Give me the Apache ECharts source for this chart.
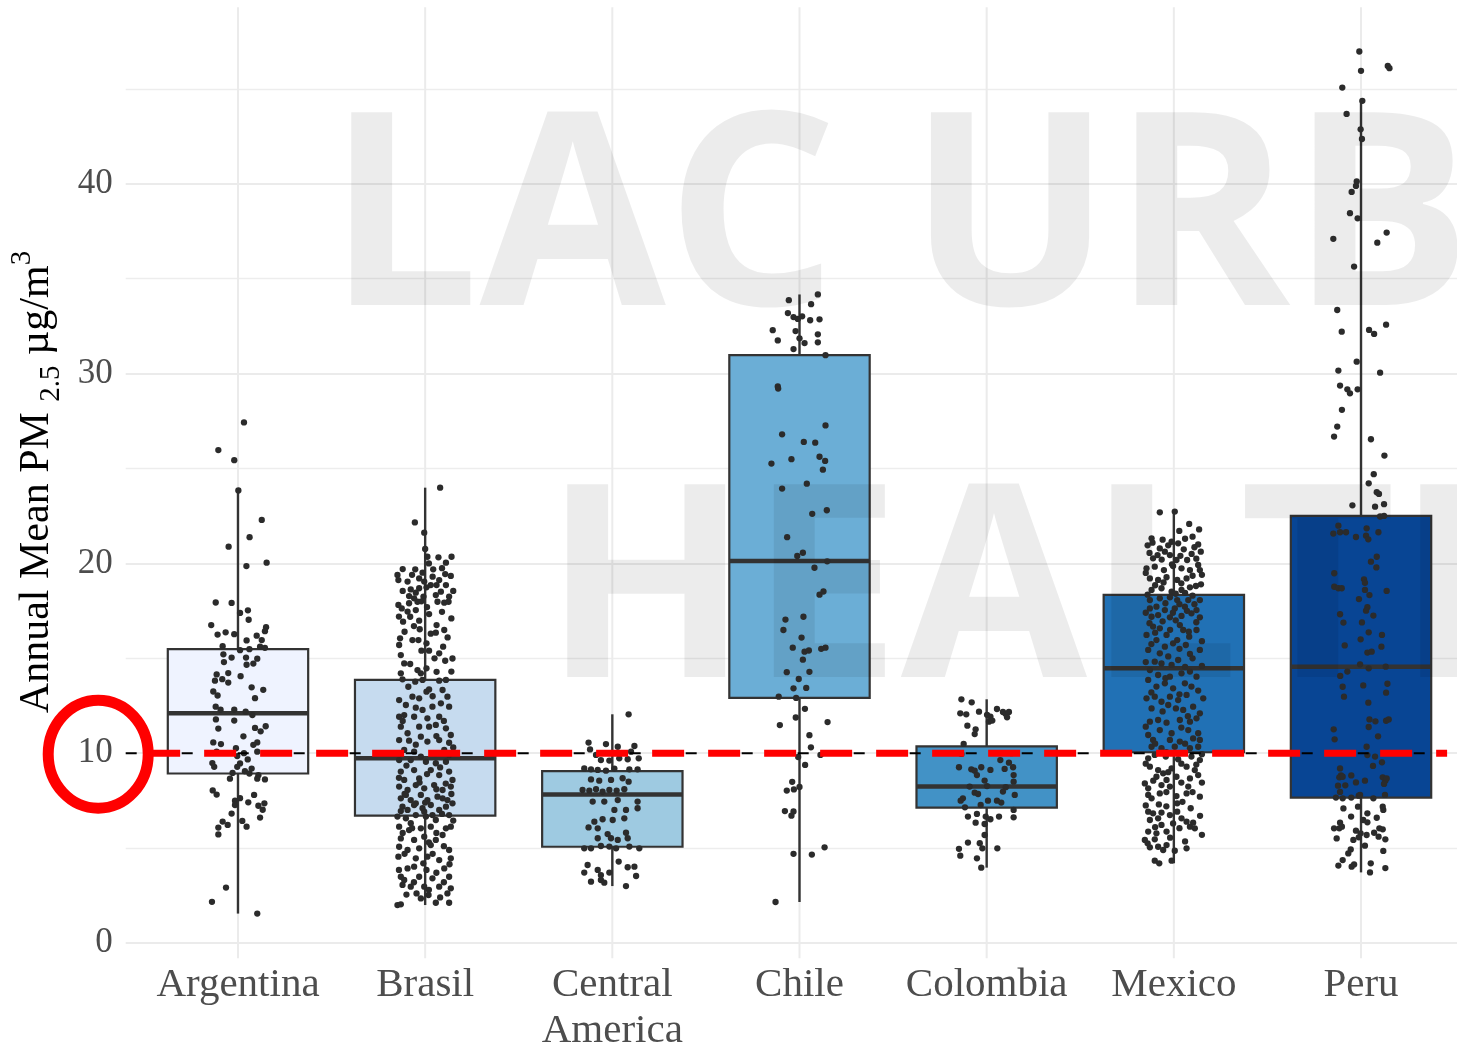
<!DOCTYPE html>
<html><head><meta charset="utf-8">
<script src="https://cdn.jsdelivr.net/npm/echarts@6/dist/echarts.min.js"></script>
<style>html,body{margin:0;padding:0;background:#fff}#c{width:1457px;height:1047px}</style>
</head><body><div id="c"></div>
<script>
const categories = ['Argentina','Brasil','Central\nAmerica','Chile','Colombia','Mexico','Peru'];
const boxColors = ['#eff3ff','#c6dbef','#9ecae1','#6baed6','#4292c6','#2171b5','#084594'];
// [lower whisker, Q1, median, Q3, upper whisker]
const boxStats = [
  [1.55, 8.93, 12.10, 15.48, 23.84],
  [2.00, 6.71, 9.73, 13.86, 23.99],
  [3.00, 5.07, 7.83, 9.06, 12.05],
  [2.16, 12.92, 20.12, 30.97, 34.17],
  [3.97, 7.13, 8.24, 10.36, 12.84],
  [4.20, 10.05, 14.47, 18.34, 22.73],
  [3.72, 7.66, 14.56, 22.50, 44.37]
];
const yTicks = [0, 10, 20, 30, 40];
const yRange = [0, 50];
const panelRange = [-0.8, 49.3];
const guideline = 10;
const redSegment = [0.52, 7.46];
// jittered points: [horizontal jitter (category units), value]
const ptsArgentina = [[0.032,27.43],[-0.105,25.97],[-0.020,25.44],[0.002,23.84],[0.127,22.29],[0.062,21.38],[-0.050,20.88],[0.045,19.86],[0.153,20.04],[-0.119,17.94],[-0.034,17.92],[0.053,17.53],[0.011,17.39],[0.057,17.03],[-0.143,16.75],[-0.066,16.37],[-0.109,16.25],[-0.020,16.27],[0.150,16.64],[0.144,16.43],[0.100,16.19],[0.046,15.94],[0.127,15.96],[-0.082,15.64],[0.011,15.43],[0.061,15.48],[0.118,15.61],[0.144,15.55],[-0.078,15.21],[-0.034,15.04],[0.043,15.04],[0.103,14.98],[-0.075,14.80],[0.046,14.66],[0.082,14.72],[-0.114,14.15],[-0.052,14.22],[0.014,14.06],[-0.123,13.82],[-0.084,13.90],[-0.052,13.72],[0.073,13.47],[0.135,13.34],[-0.132,13.25],[-0.109,13.04],[0.091,12.90],[-0.119,12.45],[-0.093,12.29],[-0.020,12.29],[0.041,12.19],[0.077,12.01],[-0.118,11.78],[-0.020,11.72],[0.148,11.42],[0.091,11.33],[0.121,11.15],[-0.105,11.30],[0.029,10.89],[-0.132,10.57],[-0.091,10.48],[0.103,10.57],[0.082,10.44],[-0.011,10.26],[-0.114,10.08],[0.032,10.00],[0.103,10.08],[-0.004,9.85],[0.052,9.67],[-0.137,9.48],[0.011,9.46],[-0.127,9.28],[-0.004,9.28],[0.073,9.19],[0.037,9.05],[0.061,8.93],[-0.029,8.96],[0.109,8.84],[-0.043,8.66],[0.103,8.66],[0.144,8.62],[-0.135,8.04],[-0.114,7.82],[0.086,7.80],[0.011,7.63],[-0.016,7.50],[0.055,7.41],[-0.016,7.27],[0.141,7.36],[0.109,7.23],[0.132,7.02],[-0.034,6.82],[0.118,6.61],[-0.082,6.40],[0.023,6.43],[-0.055,6.22],[0.046,6.13],[-0.105,6.08],[-0.105,5.72],[-0.064,2.92],[-0.139,2.17],[0.103,1.55]];
const ptsBrasil = [[0.080,23.99],[-0.055,22.16],[-0.005,21.62],[0.000,20.76],[0.012,20.35],[0.071,20.32],[0.141,20.35],[0.111,20.04],[-0.053,19.69],[0.043,19.69],[-0.148,19.39],[-0.143,19.12],[-0.094,19.04],[-0.032,19.21],[-0.014,19.51],[0.107,19.44],[0.137,19.34],[0.075,19.12],[0.061,18.86],[0.111,18.86],[-0.077,18.63],[-0.032,18.69],[0.007,18.74],[-0.086,18.28],[-0.050,18.46],[-0.009,18.25],[0.057,18.33],[0.084,18.51],[0.128,18.25],[-0.143,17.81],[-0.086,17.90],[-0.041,17.98],[0.066,17.98],[0.125,17.98],[-0.125,17.63],[-0.094,17.46],[-0.050,17.54],[0.021,17.33],[-0.080,17.19],[-0.032,16.98],[-0.118,16.93],[0.061,16.75],[0.102,16.49],[0.057,16.35],[-0.029,16.53],[-0.134,16.05],[-0.139,15.70],[-0.068,15.96],[-0.036,15.96],[0.007,15.79],[-0.130,15.17],[0.021,15.40],[0.075,15.26],[0.096,15.61],[0.146,14.99],[0.107,14.87],[-0.112,14.73],[-0.041,14.38],[-0.023,14.21],[-0.130,14.21],[-0.121,13.89],[0.061,14.29],[0.007,14.47],[-0.053,13.77],[-0.014,13.86],[0.075,13.82],[0.111,13.86],[0.007,13.24],[0.021,13.36],[-0.068,12.98],[-0.032,12.89],[-0.139,12.80],[-0.103,12.54],[0.093,13.33],[0.119,12.98],[0.084,12.63],[0.128,12.45],[0.039,12.45],[-0.139,11.92],[-0.112,12.01],[-0.059,11.92],[-0.014,12.28],[0.012,11.84],[0.075,11.92],[-0.130,11.40],[-0.094,11.05],[-0.032,11.40],[0.021,11.40],[0.057,11.49],[0.111,11.31],[0.137,10.96],[-0.139,10.69],[-0.086,10.66],[-0.023,10.87],[0.012,10.61],[0.075,10.69],[0.128,10.55],[-0.112,10.17],[-0.059,10.08],[-0.023,9.82],[0.057,9.99],[0.102,10.17],[0.128,9.90],[-0.139,9.64],[0.004,9.55],[0.057,9.47],[0.111,9.55],[-0.077,9.64],[-0.130,9.03],[-0.112,8.59],[-0.059,9.11],[-0.032,8.67],[0.030,9.11],[0.075,8.85],[0.128,9.03],[0.146,8.59],[-0.139,8.24],[-0.094,8.06],[-0.050,8.32],[-0.005,8.15],[0.048,8.32],[0.093,8.06],[0.137,8.24],[-0.130,7.62],[-0.077,7.53],[-0.023,7.80],[0.012,7.53],[0.066,7.71],[0.119,7.53],[0.146,7.36],[-0.121,7.18],[-0.094,7.01],[-0.059,7.27],[-0.014,7.10],[0.030,7.27],[0.075,7.01],[0.111,7.18],[-0.148,6.66],[-0.103,6.57],[-0.050,6.74],[0.004,6.66],[0.057,6.48],[0.128,6.74],[-0.139,6.13],[-0.086,5.95],[-0.023,6.04],[0.030,6.13],[0.111,6.04],[0.137,6.13],[-0.130,5.51],[-0.059,5.43],[-0.005,5.60],[0.057,5.43],[0.093,5.69],[-0.139,5.07],[-0.094,4.90],[-0.032,4.99],[0.030,5.16],[0.128,4.90],[-0.143,4.55],[-0.050,4.46],[0.012,4.55],[0.075,4.37],[0.137,4.46],[-0.094,3.93],[-0.059,4.02],[0.007,3.85],[0.102,3.93],[-0.130,3.49],[-0.112,3.32],[-0.032,3.49],[0.039,3.41],[0.128,3.49],[-0.121,3.06],[-0.077,2.97],[-0.005,2.97],[0.075,2.97],[0.137,2.88],[-0.046,2.61],[-0.023,2.35],[0.018,2.53],[0.119,2.61],[-0.148,2.00],[-0.130,2.04],[0.057,2.12],[0.128,2.12],[-0.103,7.80],[-0.050,7.36],[0.093,7.62],[-0.005,6.92],[0.039,6.74],[-0.077,6.31],[-0.005,19.04],[0.030,18.86],[-0.059,18.16],[0.102,17.93],
[-0.120,19.70],[0.020,20.00],[0.090,19.75],[-0.070,19.40],[0.040,19.30],[-0.120,18.55],[0.150,18.55],[-0.020,18.00],[0.010,17.70],[0.090,17.45],[-0.140,17.20],[0.140,17.10],[-0.060,16.70],[0.030,16.30],[-0.110,16.40],[0.120,16.10],[-0.020,15.40],[0.050,15.00],[-0.080,14.70],[0.140,14.30],[-0.090,13.50],[0.040,13.00],[-0.050,12.40],[0.100,11.70],[-0.120,11.70],[0.060,10.90],[-0.050,10.45],[0.150,10.30],[-0.100,9.35],[0.080,9.25],[0.010,8.90],[-0.140,8.70],[0.110,8.40],[-0.030,8.45],[0.060,8.10],[-0.110,7.85],[0.140,7.85],[0.000,7.40],[-0.130,6.95],[0.090,6.80],[0.150,6.45],[-0.070,6.05],[0.060,5.80],[-0.120,5.80],[0.020,5.30],[0.100,5.10],[-0.110,4.70],[0.040,4.70],[-0.010,4.20],[0.130,4.15],[-0.140,3.85],[0.060,3.70],[-0.060,3.20],[0.100,3.20],[0.020,2.80],[-0.100,2.55],[0.080,2.40]];
const ptsCentralAmerica = [[0.087,12.05],[-0.127,10.56],[-0.034,10.48],[-0.119,10.20],[0.029,10.34],[0.118,10.38],[0.100,10.08],[-0.087,9.91],[-0.061,9.64],[-0.016,9.61],[0.037,9.73],[0.082,9.68],[0.141,9.73],[-0.150,9.20],[-0.114,9.15],[-0.078,9.12],[-0.034,9.08],[0.011,9.19],[0.091,9.15],[0.135,9.15],[-0.114,8.62],[-0.070,8.55],[-0.007,8.59],[0.055,8.68],[0.087,8.50],[-0.159,8.06],[-0.123,8.03],[-0.087,8.10],[-0.052,7.97],[-0.016,8.06],[0.023,8.03],[0.064,8.10],[-0.105,7.45],[-0.043,7.45],[0.029,7.53],[0.135,7.45],[0.011,7.01],[0.073,7.01],[0.135,7.10],[-0.096,6.39],[-0.052,6.52],[0.002,6.48],[0.064,6.57],[-0.127,6.09],[-0.078,6.04],[-0.025,5.74],[0.073,5.81],[-0.007,5.52],[-0.078,5.52],[0.029,5.43],[0.082,5.52],[-0.150,4.99],[-0.114,4.99],[-0.061,5.11],[-0.016,5.08],[0.020,4.99],[0.091,5.08],[0.144,4.99],[-0.132,4.11],[0.034,4.29],[0.082,3.99],[0.118,4.02],[-0.150,3.71],[-0.078,3.85],[-0.061,3.58],[-0.016,3.71],[0.127,3.53],[-0.114,3.23],[-0.061,3.32],[-0.043,3.18],[0.073,3.00]];
const ptsChile = [[-0.057,33.87],[0.098,34.17],[0.062,33.66],[-0.062,33.19],[-0.032,32.98],[-0.009,32.88],[0.014,33.02],[0.057,32.81],[0.107,32.86],[-0.143,32.29],[-0.021,32.24],[0.098,32.07],[-0.116,31.75],[0.000,31.86],[0.027,31.61],[0.098,31.65],[-0.032,31.29],[0.139,30.97],[-0.116,29.32],[-0.114,29.21],[0.139,27.27],[-0.093,26.80],[0.023,26.40],[0.084,26.36],[0.107,25.62],[0.137,25.40],[0.125,24.94],[-0.150,25.26],[-0.043,25.49],[-0.093,23.94],[0.039,24.20],[0.146,22.80],[0.068,22.61],[-0.066,21.38],[-0.012,20.39],[0.018,20.56],[0.148,20.11],[0.080,19.77],[0.107,18.35],[0.128,18.52],[-0.075,17.04],[0.021,17.19],[-0.086,16.49],[0.011,16.09],[-0.036,15.56],[0.027,15.35],[0.050,15.41],[0.116,15.50],[0.139,15.56],[0.018,14.93],[-0.068,14.27],[0.053,14.29],[-0.004,13.91],[-0.032,13.42],[0.036,13.44],[-0.111,12.98],[-0.018,12.91],[0.029,12.34],[-0.020,11.88],[-0.105,11.48],[0.150,11.64],[0.053,10.95],[0.061,10.31],[-0.007,9.80],[0.112,9.91],[0.030,9.38],[-0.039,8.49],[0.000,8.22],[-0.030,8.09],[-0.068,8.03],[-0.078,6.95],[-0.032,6.93],[-0.043,6.71],[0.134,5.04],[-0.032,4.70],[0.066,4.66],[-0.128,2.16]];
const ptsColombia = [[-0.135,12.84],[-0.080,12.68],[-0.141,12.10],[-0.109,12.05],[-0.041,12.19],[0.055,12.33],[0.087,12.17],[0.102,12.07],[0.119,12.17],[0.109,11.89],[0.002,12.02],[0.020,11.93],[0.012,11.66],[0.030,11.72],[-0.103,11.45],[-0.059,11.26],[-0.064,11.01],[-0.123,10.49],[-0.135,9.96],[0.132,10.00],[0.073,9.64],[0.119,9.50],[-0.148,9.26],[-0.082,9.15],[-0.064,9.08],[-0.052,8.85],[-0.029,9.26],[0.020,9.12],[0.096,9.17],[0.141,9.26],[0.144,8.85],[-0.011,8.56],[0.144,8.50],[-0.091,8.24],[0.002,8.27],[0.102,8.21],[-0.064,7.92],[-0.046,7.85],[0.087,7.98],[0.150,7.80],[-0.127,7.62],[-0.139,7.50],[0.007,7.50],[0.055,7.50],[0.078,7.40],[-0.032,7.27],[-0.116,7.15],[0.144,7.01],[-0.100,6.66],[-0.052,6.80],[-0.005,6.66],[0.020,6.52],[0.066,6.66],[0.144,6.62],[-0.059,6.34],[-0.011,6.27],[-0.011,5.69],[-0.100,5.29],[-0.037,5.26],[-0.023,4.99],[0.057,4.99],[-0.148,4.96],[-0.141,4.60],[-0.052,4.46],[-0.029,3.97]];
const ptsMexico = [[-0.075,22.69],[0.005,22.73],[0.082,22.08],[0.029,21.71],[0.135,21.79],[0.100,21.41],[-0.119,21.32],[-0.114,21.09],[-0.012,21.14],[0.023,21.06],[0.130,21.00],[0.144,20.62],[-0.075,20.79],[-0.048,20.62],[0.053,20.74],[-0.111,20.27],[-0.087,20.44],[-0.021,20.44],[0.014,20.18],[0.071,20.18],[-0.146,19.74],[-0.102,19.83],[-0.053,19.65],[-0.004,19.86],[0.041,19.74],[0.086,19.65],[0.130,19.92],[0.139,19.65],[-0.128,19.21],[-0.084,19.13],[-0.039,19.27],[0.018,19.13],[0.068,19.21],[-0.119,18.60],[-0.066,18.69],[-0.012,18.51],[0.041,18.60],[0.086,18.74],[0.118,18.81],[-0.128,18.07],[-0.075,18.16],[-0.021,18.21],[0.018,18.07],[0.077,18.07],[0.139,18.07],[-0.128,17.63],[-0.093,17.72],[-0.048,17.54],[0.005,17.63],[0.059,17.72],[0.121,17.54],[-0.119,17.19],[-0.084,17.28],[-0.021,17.16],[0.041,17.23],[0.139,17.16],[0.094,17.37],[-0.111,16.67],[-0.075,16.58],[0.032,16.75],[0.050,16.49],[-0.146,16.23],[-0.039,16.23],[0.018,15.96],[0.082,16.14],[0.121,16.49],[-0.093,15.96],[-0.048,15.61],[-0.004,15.79],[0.064,15.70],[-0.137,15.44],[-0.075,15.26],[0.086,15.23],[0.139,15.44],[-0.102,14.82],[-0.066,14.73],[0.023,14.91],[-0.012,14.65],[-0.128,14.38],[-0.084,14.12],[-0.021,14.03],[0.041,14.21],[0.086,14.30],[0.121,14.03],[-0.137,13.86],[-0.093,13.51],[-0.048,13.68],[-0.004,13.42],[0.059,13.68],[0.094,13.51],[-0.146,12.89],[-0.102,12.98],[-0.066,12.71],[-0.021,12.98],[0.023,12.80],[0.068,13.07],[0.157,12.89],[-0.119,12.36],[-0.030,12.54],[0.011,12.36],[0.050,12.28],[0.103,12.45],[0.139,12.10],[-0.128,11.66],[-0.084,11.75],[-0.039,11.61],[0.032,11.75],[0.086,11.66],[0.121,11.84],[-0.075,11.22],[-0.012,11.05],[0.077,11.22],[0.130,11.05],[-0.137,10.96],[-0.111,10.70],[-0.021,10.70],[0.032,10.61],[0.103,10.78],[0.139,10.70],[-0.119,10.34],[-0.066,10.26],[0.005,10.34],[0.086,10.26],[0.130,10.34],[-0.137,9.73],[-0.102,9.91],[-0.043,9.82],[0.023,9.68],[0.094,9.82],[0.139,9.64],[-0.128,9.29],[-0.084,9.11],[-0.057,8.94],[-0.012,9.20],[0.068,9.29],[0.112,9.11],[-0.093,8.76],[-0.039,8.59],[0.014,8.76],[0.086,8.67],[0.130,8.85],[-0.155,8.41],[-0.137,8.15],[-0.066,8.32],[-0.021,8.24],[0.077,8.24],[-0.137,7.80],[-0.119,7.62],[-0.075,7.88],[0.014,7.74],[0.068,7.88],[0.139,7.71],[0.018,7.36],[0.046,7.44],[-0.137,6.92],[-0.111,6.83],[-0.066,6.87],[-0.021,6.74],[0.018,6.92],[-0.128,6.48],[-0.084,6.57],[0.041,6.57],[0.068,6.39],[0.103,6.34],[-0.066,6.22],[-0.004,6.30],[0.086,6.13],[0.112,6.04],[-0.137,5.87],[-0.093,5.78],[-0.039,5.87],[-0.155,5.43],[-0.102,5.46],[-0.039,5.16],[-0.128,5.04],[-0.084,5.07],[-0.057,4.90],[0.005,4.86],[0.068,4.99],[-0.102,4.34],[-0.078,4.20],[-0.012,4.34],
[-0.140,20.95],[-0.060,21.25],[0.060,21.30],[0.110,20.85],[-0.030,20.95],[0.095,20.50],[-0.130,20.55],[0.035,20.40],[-0.065,20.20],[0.120,20.25],[-0.010,19.95],[0.150,19.40],[-0.150,19.50],[0.100,19.35],[-0.055,19.00],[0.040,18.95],[0.145,18.90],[-0.100,18.85],[0.010,18.40],[-0.140,18.35],[0.100,18.30],[0.060,18.45],[-0.045,17.90],[0.030,17.85],[0.110,17.85],[-0.150,17.40],[-0.005,17.40],[0.070,17.50],[-0.060,16.95],[0.010,17.00],[0.120,16.90],[-0.130,16.85],[0.080,16.40],[-0.020,16.50],[-0.100,16.35],[0.150,15.90],[0.030,15.50],[-0.120,15.75],[0.100,15.00],[-0.030,15.10],[0.150,14.60],[0.060,14.55],[-0.150,14.80],[-0.045,13.95],[0.130,13.30],[-0.120,13.20],[0.030,13.10],[-0.060,12.20],[0.075,11.95],[-0.150,11.40],[0.040,11.35],[-0.100,10.50],[0.060,10.50],[-0.040,10.05],[0.150,9.95],[-0.150,9.45],[0.040,9.45],[0.120,9.40],[-0.030,9.00],[0.150,8.45],[-0.110,8.55],[0.040,8.45],[-0.040,7.95],[0.100,7.95],[-0.150,7.25],[-0.080,7.30],[0.090,7.10],[-0.040,7.20],[0.140,6.70],[-0.100,6.10],[0.030,6.05],[0.150,5.70],[-0.020,5.55],[-0.140,5.25],[0.060,5.35]];
const ptsPeru = [[-0.009,46.97],[0.000,45.95],[0.143,46.21],[0.152,46.09],[-0.100,45.07],[0.007,44.37],[-0.077,43.68],[-0.002,42.87],[0.005,42.36],[-0.023,40.12],[-0.027,39.89],[-0.050,39.57],[-0.059,38.45],[-0.018,38.18],[-0.148,37.10],[0.087,36.90],[0.137,37.43],[-0.037,35.64],[-0.127,33.35],[-0.103,32.21],[0.043,32.30],[0.070,32.09],[0.134,32.58],[-0.023,30.63],[-0.121,30.16],[0.102,30.05],[-0.112,29.37],[-0.073,29.17],[-0.059,28.96],[-0.018,29.17],[-0.102,28.09],[-0.127,27.21],[-0.144,26.68],[0.053,26.54],[0.125,25.68],[0.068,24.70],[0.041,24.22],[0.084,23.75],[0.096,23.66],[-0.046,23.06],[0.075,22.99],[0.123,23.12],[0.102,22.47],[0.123,22.50],[-0.121,21.99],[-0.148,21.57],[-0.112,21.64],[-0.080,21.64],[-0.027,21.39],[0.030,21.85],[0.027,21.46],[0.039,21.27],[0.093,21.64],[0.053,20.09],[0.084,20.35],[0.082,19.79],[-0.143,19.48],[0.016,19.16],[0.021,18.98],[-0.143,18.77],[-0.121,18.69],[-0.103,18.69],[0.021,18.60],[0.045,18.33],[0.137,18.55],[-0.011,18.12],[0.034,17.69],[0.027,17.51],[0.066,17.25],[-0.112,17.32],[-0.094,16.88],[0.005,16.89],[0.041,16.37],[0.112,16.23],[-0.087,15.68],[-0.002,16.00],[0.109,15.61],[0.034,15.30],[0.057,15.35],[-0.005,14.68],[0.041,14.47],[0.132,14.56],[-0.111,14.07],[-0.073,14.30],[-0.098,13.50],[0.012,13.57],[0.141,13.66],[0.134,13.19],[-0.091,12.98],[0.039,12.66],[0.045,11.78],[0.077,11.68],[0.134,11.71],[0.148,11.78],[0.041,11.38],[-0.146,11.26],[-0.141,10.73],[0.091,10.89],[0.030,10.34],[0.034,9.90],[0.075,9.82],[0.112,9.52],[0.064,9.33],[-0.112,9.20],[-0.107,8.83],[-0.116,8.73],[-0.098,8.76],[-0.052,8.83],[-0.084,8.31],[-0.123,8.29],[-0.027,8.46],[0.021,8.55],[0.116,8.73],[0.130,8.55],[0.137,8.67],[0.123,8.38],[-0.112,7.96],[-0.134,7.66],[-0.098,7.62],[-0.052,7.66],[-0.012,7.76],[-0.005,7.80],[0.066,7.62],[0.128,7.80],[-0.094,7.09],[-0.016,7.18],[0.116,7.18],[0.119,7.01],[-0.053,6.66],[0.034,6.83],[0.084,6.60],[0.012,6.48],[0.034,6.36],[-0.112,6.34],[-0.144,6.04],[-0.116,6.04],[-0.102,6.13],[-0.027,5.92],[-0.002,5.78],[0.098,6.04],[0.116,5.99],[0.030,5.69],[0.070,5.81],[0.094,5.60],[0.130,5.46],[-0.130,5.51],[-0.041,5.43],[-0.012,5.57],[0.021,5.13],[-0.055,4.93],[0.119,4.85],[-0.068,4.72],[-0.098,4.37],[-0.121,4.08],[-0.050,4.02],[-0.037,4.14],[0.052,4.20],[0.048,3.72],[0.130,3.95]];
const pointGroups = [ptsArgentina, ptsBrasil, ptsCentralAmerica, ptsChile, ptsColombia, ptsMexico, ptsPeru];

const SERIF = '"Liberation Serif","Times New Roman",serif';
const chart = echarts.init(document.getElementById('c'), null, {renderer: 'canvas'});

const scatterData = [];
pointGroups.forEach((g, i) => g.forEach(p => scatterData.push([i + 1 + p[0], p[1]])));

function renderVGrid(params, api) {
  const x = api.coord([api.value(0), 0])[0];
  const yTop = api.coord([api.value(0), panelRange[1]])[1];
  const yBot = api.coord([api.value(0), panelRange[0]])[1];
  return {type: 'line', shape: {x1: x, y1: yTop, x2: x, y2: yBot}, style: {stroke: '#ebebeb', lineWidth: 2}};
}
function renderBox(params, api) {
  const i = params.dataIndex;
  const x = api.value(0);
  const pLo = api.coord([x, api.value(1)]);
  const pQ1 = api.coord([x, api.value(2)]);
  const pMd = api.coord([x, api.value(3)]);
  const pQ3 = api.coord([x, api.value(4)]);
  const pHi = api.coord([x, api.value(5)]);
  const w = api.size([0.75, 0])[0];
  const cx = pMd[0];
  return {type: 'group', children: [
    {type: 'line', shape: {x1: cx, y1: pHi[1], x2: cx, y2: pQ3[1]}, style: {stroke: '#333333', lineWidth: 2.4}},
    {type: 'line', shape: {x1: cx, y1: pQ1[1], x2: cx, y2: pLo[1]}, style: {stroke: '#333333', lineWidth: 2.4}},
    {type: 'rect', shape: {x: cx - w / 2, y: pQ3[1], width: w, height: pQ1[1] - pQ3[1]}, style: {fill: boxColors[i], stroke: '#333333', lineWidth: 2.2}},
    {type: 'line', shape: {x1: cx - w / 2, y1: pMd[1], x2: cx + w / 2, y2: pMd[1]}, style: {stroke: '#333333', lineWidth: 4.5}}
  ]};
}
function renderBlackLine(params, api) {
  const cs = params.coordSys;
  const y = api.coord([0, api.value(1)])[1];
  return {type: 'group', children: [
    {type: 'line', shape: {x1: cs.x, y1: y, x2: cs.x + cs.width, y2: y}, style: {stroke: '#000', lineWidth: 2, lineDash: [11, 16, 3, 26]}},
    {type: 'ellipse', z2: 10, shape: {cx: cs.x - 27.5, cy: y + 1, rx: 50, ry: 54}, style: {fill: 'none', stroke: '#ff0000', lineWidth: 11}}
  ]};
}
function renderRedLine(params, api) {
  const p1 = api.coord([api.value(0), api.value(2)]);
  const p2 = api.coord([api.value(1), api.value(2)]);
  return {type: 'line', shape: {x1: p1[0], y1: p1[1], x2: p2[0], y2: p2[1]}, style: {stroke: '#ff0000', lineWidth: 7, lineDash: [32, 24]}};
}

const GRID_TOP = -6, GRID_H = 949;
const option = {
  animation: false,
  backgroundColor: '#ffffff',
  grid: [
    {left: 125.7, width: 1347.6, top: GRID_TOP, height: GRID_H, containLabel: false, outerBoundsMode: 'none'},
    {left: 144.4, width: 1310.2, top: GRID_TOP, height: GRID_H, containLabel: false, outerBoundsMode: 'none'}
  ],
  xAxis: [
    {type: 'value', gridIndex: 0, min: 0, max: 1, show: false},
    {type: 'category', gridIndex: 1, data: categories, boundaryGap: true,
      axisLine: {show: false}, axisTick: {show: false}, splitLine: {show: false},
      axisLabel: {fontFamily: SERIF, fontSize: 41, color: '#4d4d4d', margin: 19, lineHeight: 46, interval: 0}},
    {type: 'value', gridIndex: 1, min: 0.5, max: 7.5, show: false}
  ],
  yAxis: [
    {type: 'value', gridIndex: 0, min: yRange[0], max: yRange[1], interval: 10,
      axisLine: {show: false}, axisTick: {show: false},
      axisLabel: {fontFamily: SERIF, fontSize: 35, color: '#4d4d4d', margin: 13,
        formatter: v => (yTicks.indexOf(v) >= 0 ? String(v) : '')},
      splitLine: {show: true, lineStyle: {color: '#ebebeb', width: 2}},
      minorTick: {show: false, splitNumber: 2},
      minorSplitLine: {show: true, lineStyle: {color: '#ededed', width: 1.3}}},
    {type: 'value', gridIndex: 1, min: yRange[0], max: yRange[1], show: false}
  ],
  graphic: [
    {type: 'text', z: 3, silent: true, x: 327, y: 228,
      style: {text: 'LAC URBAN', fontFamily: '"Open Sans",sans-serif', fontWeight: 'bold', fontSize: 270, fill: 'rgba(0,0,0,0.075)', align: 'left', verticalAlign: 'middle'}},
    {type: 'text', z: 3, silent: true, x: 543, y: 600,
      style: {text: 'HEALTH', fontFamily: '"Open Sans",sans-serif', fontWeight: 'bold', fontSize: 270, fill: 'rgba(0,0,0,0.075)', align: 'left', verticalAlign: 'middle'}},
    {type: 'text', z: 10, silent: true, x: 37, y: 482, rotation: Math.PI / 2,
      style: {
        text: '{a|Annual Mean PM }{s|2.5}{a| \u00b5g/m}{p|3}',
        align: 'center', verticalAlign: 'middle', fill: '#000',
        rich: {
          a: {fontFamily: SERIF, fontSize: 42, fill: '#000', color: '#000', lineHeight: 58, verticalAlign: 'middle'},
          s: {fontFamily: SERIF, fontSize: 29, fill: '#000', color: '#000', lineHeight: 29, verticalAlign: 'bottom'},
          p: {fontFamily: SERIF, fontSize: 29, fill: '#000', color: '#000', lineHeight: 29, verticalAlign: 'top'}
        }
      }}
  ],
  series: [
    {type: 'custom', name: 'vgrid', xAxisIndex: 2, yAxisIndex: 1, z: 1, silent: true,
      data: categories.map((c, i) => [i + 1, 0]), encode: {x: 0, y: 1}, renderItem: renderVGrid},
    {type: 'custom', name: 'boxes', xAxisIndex: 2, yAxisIndex: 1, z: 2, silent: true,
      data: boxStats.map((s, i) => [i + 1].concat(s)), encode: {x: 0, y: [1, 2, 3, 4, 5]}, renderItem: renderBox},
    {type: 'scatter', name: 'sites', xAxisIndex: 2, yAxisIndex: 1, z: 4, silent: true,
      symbol: 'circle', symbolSize: 6.3, itemStyle: {color: '#2b2b2b', opacity: 1},
      data: scatterData},
    {type: 'custom', name: 'ref', xAxisIndex: 0, yAxisIndex: 0, z: 5, silent: true,
      data: [[0.5, guideline]], encode: {x: 0, y: 1}, renderItem: renderBlackLine},
    {type: 'custom', name: 'who', xAxisIndex: 2, yAxisIndex: 1, z: 6, silent: true,
      data: [[redSegment[0], redSegment[1], guideline]], encode: {x: [0, 1], y: 2}, renderItem: renderRedLine}
  ]
};
chart.setOption(option);
</script>
</body></html>
